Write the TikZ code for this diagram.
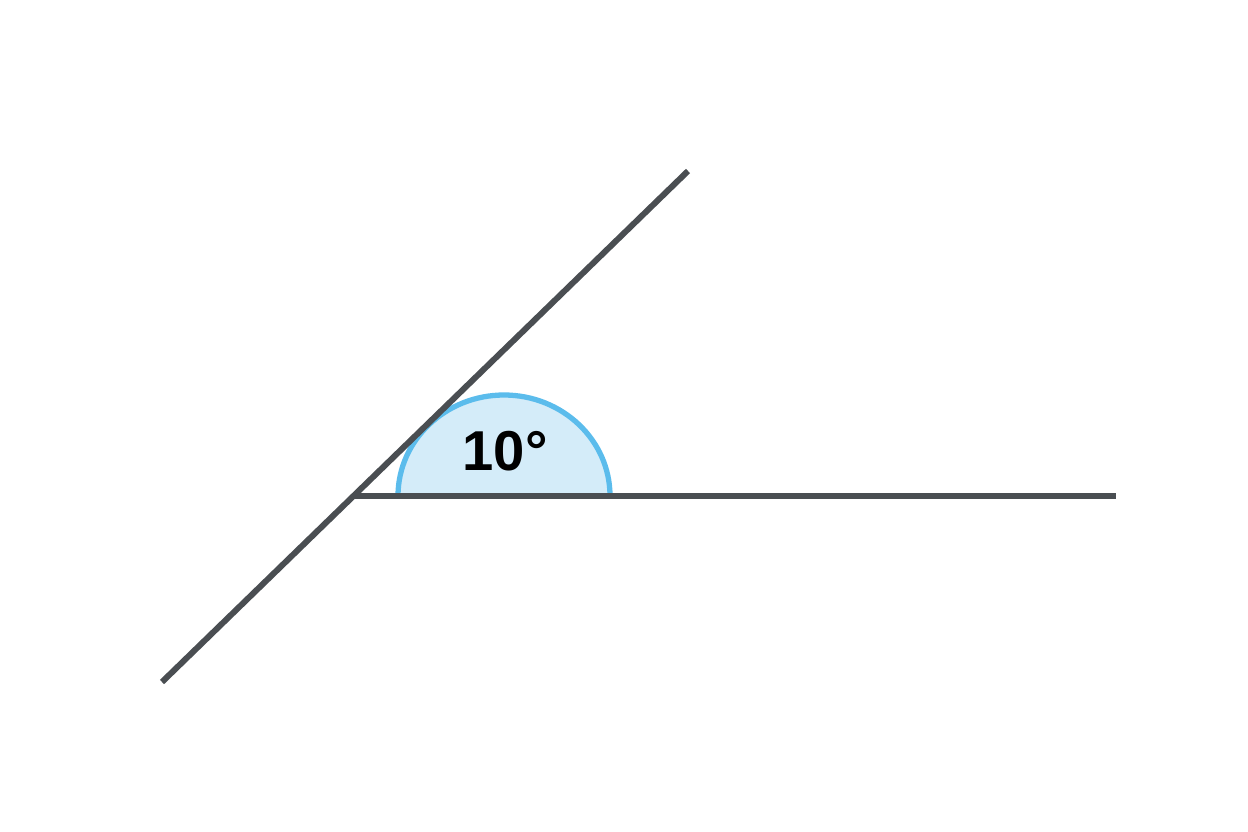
\documentclass[tikz,border=0pt]{standalone}
\usepackage{fontspec}
\setmainfont{Liberation Sans}
\usepackage{xcolor}
\definecolor{ligne}{HTML}{4A4E52}
\definecolor{arcbleu}{HTML}{5BBCEC}
\definecolor{fondbleu}{HTML}{D4ECF9}

\begin{document}
\begin{tikzpicture}[x=0.02cm, y=-0.02cm,%
        droite/.style={draw=ligne, line width=3.4pt}, angle/.style={draw=arcbleu, fill=fondbleu, line width=3pt}]
        \useasboundingbox (0,0) rectangle (1248,832);
        \coordinate (sommet) at (352,496);
        \coordinate (bas) at (162,682);
        \coordinate (haut) at (688,171);
        \coordinate (fin) at (1116,496);
        \path[angle] (398,496) arc[start angle=180, end angle=0, x radius=106, y radius=-101];
        \node[font=\bfseries\fontsize{32}{36}\selectfont] (mesure) at (505,451) {10°};
        \draw[droite] (bas) -- (haut);
        \draw[droite] (sommet) -- (fin);
    \end{tikzpicture}
\end{document}
